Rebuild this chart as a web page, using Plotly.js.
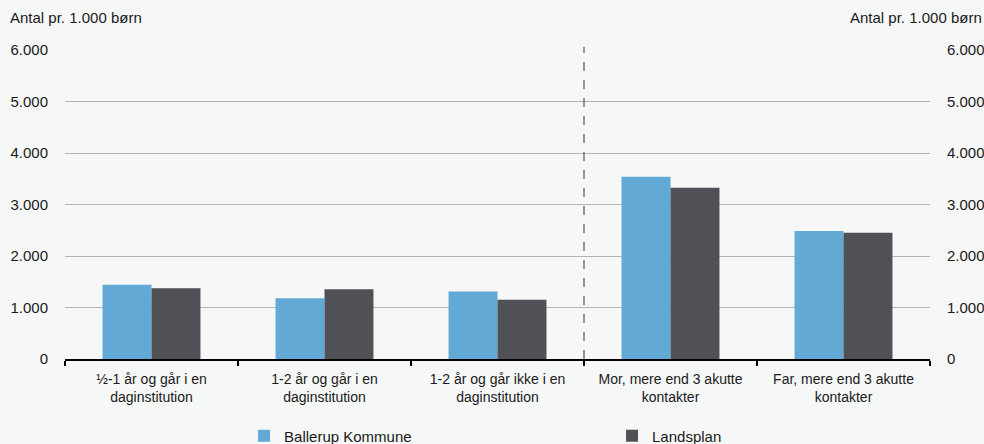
<!DOCTYPE html>
<html>
<head>
<meta charset="utf-8">
<script src="https://cdn.plot.ly/plotly-3.0.1.min.js"></script>
<style>html,body{margin:0;padding:0;background:#f6f7f7;}#chart{width:984px;height:444px;}</style>
</head>
<body>
<div id="chart"></div>
<script>
const categories = [
  "½-1 år og går i en<br>daginstitution",
  "1-2 år og går i en<br>daginstitution",
  "1-2 år og går ikke i en<br>daginstitution",
  "Mor, mere end 3 akutte<br>kontakter",
  "Far, mere end 3 akutte<br>kontakter"
];
const ballerup = [1440, 1180, 1310, 3540, 2485];
const landsplan = [1375, 1355, 1150, 3325, 2450];
const tickValues = [0, 1000, 2000, 3000, 4000, 5000, 6000];
const tickLabels = ["0", "1.000", "2.000", "3.000", "4.000", "5.000", "6.000"];
const axisTitle = "Antal pr. 1.000 børn";
const seriesNames = ["Ballerup Kommune", "Landsplan"];

const fam = "Liberation Sans, Arial, sans-serif";
const font = {family: fam, size: 15, color: "#1a1a1a"};
const catFont = {family: fam, size: 14, color: "#1a1a1a"};

const traces = [
  {type: "bar", name: seriesNames[0], x: categories, y: ballerup,
   marker: {color: "#63a9d5", line: {width: 0}}},
  {type: "bar", name: seriesNames[1], x: categories, y: landsplan,
   marker: {color: "#505156", line: {width: 0}}},
  // carrier for the right-hand axis (invisible)
  {type: "scatter", mode: "markers", x: categories, y: ballerup, yaxis: "y2",
   marker: {opacity: 0}, showlegend: false, hoverinfo: "skip"}
];

const layout = {
  width: 984, height: 444,
  margin: {l: 65, r: 54, t: 50, b: 85, autoexpand: false},
  paper_bgcolor: "#f6f7f7", plot_bgcolor: "#f6f7f7",
  font: font,
  barmode: "group", bargap: 0.434, bargroupgap: 0,
  showlegend: true,
  legend: {orientation: "h", xref: "container", yref: "container",
           x: 0.248, xanchor: "left", y: 0.018, yanchor: "middle",
           entrywidth: 323, entrywidthmode: "pixels", font: font, traceorder: "normal",
           bgcolor: "rgba(0,0,0,0)"},
  xaxis: {type: "category", showline: true, linecolor: "#000", linewidth: 2,
          ticks: "outside", ticklen: 5, tickcolor: "#000", tickwidth: 1.5, tickson: "boundaries",
          ticklabelstandoff: 6,
          showgrid: false, tickfont: catFont, fixedrange: true, automargin: false},
  yaxis: {range: [0, 6000], tickvals: tickValues, ticktext: tickLabels,
          showgrid: true, gridcolor: "#b3b3b3", gridwidth: 1, zeroline: false, showline: false,
          ticks: "outside", ticklen: 13, tickcolor: "rgba(0,0,0,0)", tickfont: font, automargin: false},
  yaxis2: {range: [0, 6000], tickvals: tickValues, ticktext: tickLabels, overlaying: "y", side: "right",
           showgrid: false, zeroline: false, showline: false,
           ticks: "outside", ticklen: 13, tickcolor: "rgba(0,0,0,0)", tickfont: font, automargin: false},
  shapes: [{type: "line", xref: "x", yref: "paper", x0: 2.5, x1: 2.5, y0: 0, y1: 1.01,
            line: {color: "#555", width: 1.2, dash: "dash"}}],
  annotations: [
    {xref: "paper", yref: "paper", x: -0.066, y: 1.104, xanchor: "left", yanchor: "middle",
     text: axisTitle, showarrow: false, font: font},
    {xref: "paper", yref: "paper", x: 1.0624, y: 1.104, xanchor: "right", yanchor: "middle",
     text: axisTitle, showarrow: false, font: font}
  ]
};

Plotly.newPlot("chart", traces, layout, {displayModeBar: false, staticPlot: true});
</script>
</body>
</html>
